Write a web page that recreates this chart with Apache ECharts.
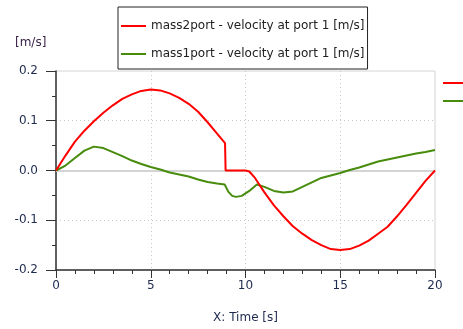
<!DOCTYPE html>
<html>
<head>
<meta charset="utf-8">
<script src="https://cdn.jsdelivr.net/npm/echarts@6/dist/echarts.min.js"></script>
<style>
    html,body{margin:0;padding:0;background:#fff}
    #chart{width:463px;height:329px}
</style>
</head>
<body>
<div id="chart"></div>
<script>
var mass2Name = 'mass2port - velocity at port 1 [m/s]'
var mass1Name = 'mass1port - velocity at port 1 [m/s]'

var mass2Time = [0,0.5,1.0,1.5,2.0,2.5,3.0,3.5,4.0,4.5,5.0,5.5,6.0,6.5,7.0,7.5,8.0,8.5,8.92,8.95,9.5,10.0,10.2,10.5,11.0,11.5,12.0,12.5,13.0,13.5,14.0,14.5,15.0,15.5,16.0,16.5,17.0,17.5,18.0,18.5,19.0,19.5,20.0]
var mass2Vel = [0,0.03,0.058,0.08,0.099,0.116,0.131,0.144,0.153,0.16,0.163,0.161,0.155,0.146,0.134,0.118,0.097,0.074,0.055,0,0,0,-0.002,-0.015,-0.044,-0.070,-0.092,-0.112,-0.127,-0.140,-0.150,-0.158,-0.160,-0.158,-0.151,-0.141,-0.127,-0.113,-0.092,-0.069,-0.045,-0.021,0]

var mass1Time = [0,0.5,1.0,1.5,2.0,2.5,3.0,3.5,4.0,4.5,5.0,5.5,6.0,6.5,7.0,7.5,8.0,8.5,8.9,9.1,9.3,9.5,9.8,10.2,10.6,11.0,11.5,12.0,12.5,13.0,13.5,14.0,14.5,15.0,15.5,16.0,16.5,17.0,17.5,18.0,18.5,19.0,19.5,20.0]
var mass1Vel = [0,0.01,0.025,0.04,0.048,0.045,0.037,0.029,0.02,0.013,0.007,0.002,-0.004,-0.008,-0.012,-0.018,-0.023,-0.026,-0.028,-0.043,-0.051,-0.053,-0.051,-0.041,-0.028,-0.033,-0.041,-0.044,-0.042,-0.033,-0.024,-0.015,-0.010,-0.005,0.001,0.006,0.012,0.018,0.022,0.026,0.030,0.034,0.037,0.041]

var xTicks = {min:0,max:20,step:5}
var yTicks = {min:-0.2,max:0.2,step:0.1}

function pairs(t,v){
    var out = []
    for(var i=0;i<t.length;i++){
        out.push([t[i],v[i]])
    }
    return out
}

var labelColor = '#1e2a4f'
var fontName = 'DejaVu Sans'

var myChart = echarts.init(document.getElementById('chart'))
myChart.setOption({
    animation:false,
    textStyle:{fontFamily:fontName},
    grid:{left:56,right:28,top:71,bottom:58,show:true,borderColor:'#d4d4d4',borderWidth:1},
    legend:[{
        data:[mass2Name,mass1Name],
        orient:'vertical',
        left:118,top:7,
        padding:[13,3,9,3],
        icon:'rect',
        itemWidth:25,itemHeight:2,itemGap:16,
        borderColor:'#222',borderWidth:1,
        textStyle:{color:'#222',fontSize:12,fontFamily:fontName}
    },{
        // cut-off legend at the right edge
        data:[mass2Name,mass1Name],
        orient:'vertical',
        left:443,top:77,
        padding:0,
        icon:'rect',
        itemWidth:20,itemHeight:2,itemGap:6,
        textStyle:{color:'#222',fontSize:12,fontFamily:fontName}
    }],
    xAxis:{
        type:'value',
        min:xTicks.min,max:xTicks.max,interval:xTicks.step,
        name:'X: Time [s]',nameLocation:'middle',nameGap:42,
        nameTextStyle:{color:labelColor,fontSize:12,fontFamily:fontName},
        axisLine:{show:true,onZero:false,lineStyle:{color:'#333',width:1.5}},
        axisTick:{show:true,length:8,lineStyle:{color:'#333'}},
        minorTick:{show:true,splitNumber:5,length:4,lineStyle:{color:'#333'}},
        axisLabel:{color:labelColor,fontSize:12,margin:10},
        splitLine:{show:true,showMinLine:false,showMaxLine:false,lineStyle:{color:'#c8c8c8',type:[1,3]}}
    },
    yAxis:{
        type:'value',
        min:yTicks.min,max:yTicks.max,interval:yTicks.step,
        axisLine:{show:true,lineStyle:{color:'#333',width:1.5}},
        axisTick:{show:true,length:10,lineStyle:{color:'#333'}},
        minorTick:{show:true,splitNumber:2,length:4,lineStyle:{color:'#333'}},
        axisLabel:{color:labelColor,fontSize:12,margin:18,formatter:function(v){return v.toFixed(1)}},
        splitLine:{show:true,showMinLine:false,showMaxLine:false,lineStyle:{color:'#c8c8c8',type:[1,3]}}
    },
    graphic:[{
        type:'text',left:15,top:37,
        style:{text:'[m/s]',fill:'#3a2448',font:'12px "DejaVu Sans"'}
    }],
    series:[{
        name:mass2Name,
        type:'line',
        symbol:'none',
        z:3,
        lineStyle:{color:'#ff0000',width:2},
        itemStyle:{color:'#ff0000'},
        data:pairs(mass2Time,mass2Vel),
        markLine:{
            silent:true,symbol:'none',label:{show:false},
            lineStyle:{color:'#d4d4d4',type:'solid',width:2},
            data:[{yAxis:0}],
            z:1
        }
    },{
        name:mass1Name,
        type:'line',
        symbol:'none',
        z:2,
        lineStyle:{color:'#478c0c',width:2},
        itemStyle:{color:'#478c0c'},
        data:pairs(mass1Time,mass1Vel)
    }]
})
</script>
</body>
</html>
